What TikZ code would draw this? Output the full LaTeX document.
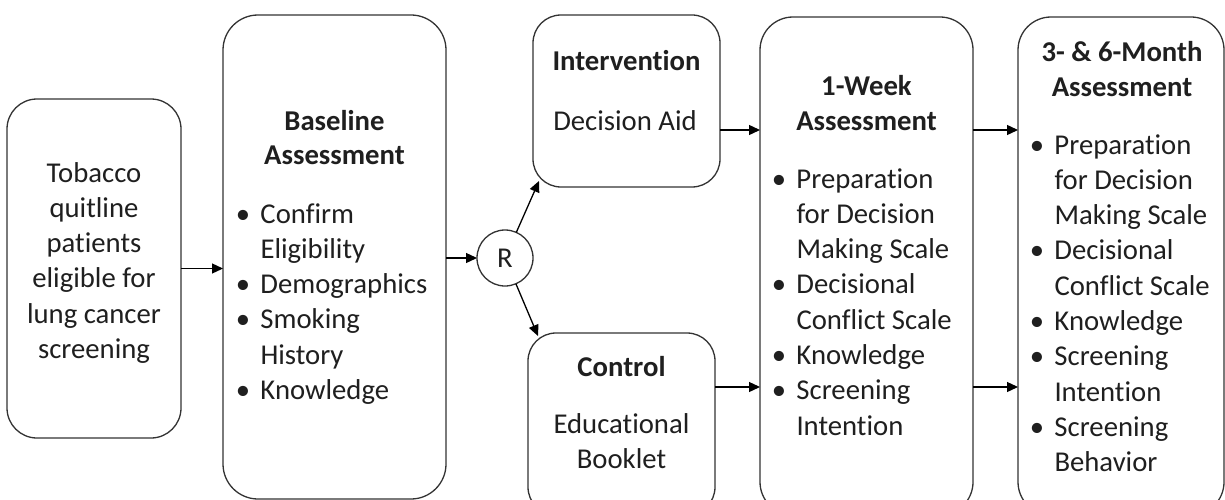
\documentclass[tikz,border=0pt]{standalone}
\usepackage{fontspec}
\setmainfont{Carlito}[Ligatures={NoCommon,NoContextual}]
\usetikzlibrary{arrows.meta}
\newcommand\fstrut{\rule{0pt}{25pt}}
\newcommand\blt{\makebox[14pt]{\textbullet}\hspace{10.5pt}}
\newcommand\ind{\hspace*{24.5pt}}
\begin{document}
\begin{tikzpicture}[x=1pt,y=-1pt,
  every node/.style={inner sep=0pt, outer sep=0pt, text=black!88},
  box/.style={draw=black!80, line width=1.3pt},
  txt/.style={font=\fontsize{28.7}{35.3}\selectfont},
  hd/.style={font=\fontsize{28.7}{34.5}\selectfont\bfseries, align=center, anchor=north},
  lst/.style={txt, align=left, anchor=north west},
  arr/.style={draw=black, line width=1.3pt, -{Triangle[length=11pt,width=10pt]}}]
\clip (0,0) rectangle (1225,500);
\fill[white] (0,0) rectangle (1225,500);
% boxes
\node[box, rounded corners=30pt, minimum width=174pt, minimum height=339pt] (tob) at (94,268.5) {};
\node[box, rounded corners=35pt, minimum width=223pt, minimum height=484pt] (base) at (334.5,257) {};
\node[box, circle, minimum size=56pt] (R) at (505,258) {};
\node[box, rounded corners=28pt, minimum width=187pt, minimum height=172pt] (intv) at (626.5,101) {};
\node[box, rounded corners=28pt, minimum width=187pt, minimum height=182pt] (ctrl) at (621.5,424) {};
\node[box, rounded corners=33pt, minimum width=213pt, minimum height=498pt] (week) at (866.5,266) {};
\node[box, rounded corners=33pt, minimum width=206pt, minimum height=498pt] (month) at (1121,266) {};
% texts
\node[txt, align=center, anchor=north] (tobt) at (94,157) {\fstrut Tobacco\\quitline\\patients\\eligible for\\lung cancer\\screening};
\node[hd] (baseh) at (334.5,105) {\fstrut Baseline\\Assessment};
\node[lst] (basel) at (236,198) {\fstrut\blt Confirm\\\ind Eligibility\\\blt Demographics\\\blt Smoking\\\ind History\\\blt Knowledge};
\node[txt] (Rt) at (R) {R};
\node[txt, font=\fontsize{28.7}{34}\selectfont\bfseries, anchor=base] (intvh) at (626.5,71) {Intervention};
\node[txt, anchor=base] (intvt) at (625,131) {Decision Aid};
\node[txt, font=\fontsize{28.7}{34}\selectfont\bfseries, anchor=base] (ctrlh) at (621.5,376) {Control};
\node[txt, align=center, anchor=north] (ctrlt) at (621.5,408) {\fstrut Educational\\Booklet};
\node[hd] (weekh) at (866.5,71) {\fstrut 1-Week\\Assessment};
\node[lst] (weekl) at (772,163) {\fstrut\blt Preparation\\\ind for Decision\\\ind Making Scale\\\blt Decisional\\\ind Conflict Scale\\\blt Knowledge\\\blt Screening\\\ind Intention};
\node[hd] (monthh) at (1122,37) {\fstrut 3- \& 6-Month\\Assessment};
\node[lst] (monthl) at (1030,129) {\fstrut\blt Preparation\\\ind for Decision\\\ind Making Scale\\\blt Decisional\\\ind Conflict Scale\\\blt Knowledge\\\blt Screening\\\ind Intention\\\blt Screening\\\ind Behavior};
% connector levels
\coordinate (yA) at (0,130);
\coordinate (yB) at (0,387);
\coordinate (ivc) at (539,181);
\coordinate (ctc) at (538,336);
% arrows
\draw[arr] (tob.east) -- (tob.east -| base.west);
\draw[arr] (R.west -| base.east) -- (R.west);
\draw[arr] (R) -- (ivc);
\draw[arr] (R) -- (ctc);
\draw[arr] (yA -| intv.east) -- (yA -| week.west);
\draw[arr] (yB -| ctrl.east) -- (yB -| week.west);
\draw[arr] (yA -| week.east) -- (yA -| month.west);
\draw[arr] (yB -| week.east) -- (yB -| month.west);
\end{tikzpicture}
\end{document}
